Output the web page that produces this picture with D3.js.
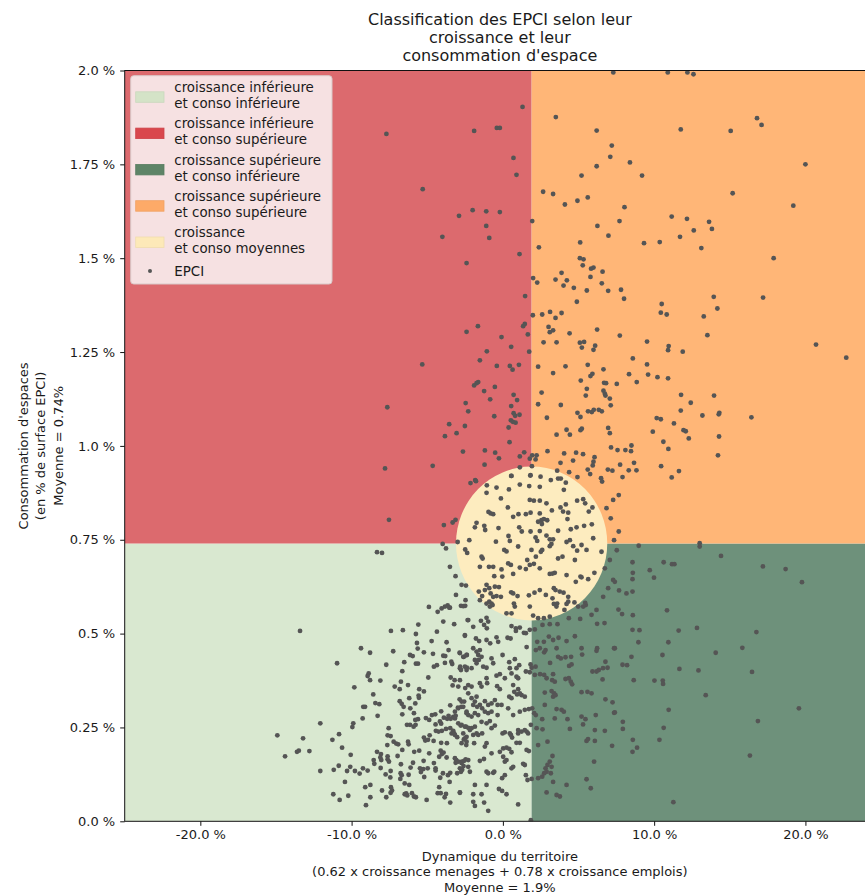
<!DOCTYPE html>
<html><head><meta charset="utf-8">
<script src="https://cdn.jsdelivr.net/npm/d3@7"></script>
<style>body{margin:0;background:#fff;} text{font-family:"DejaVu Sans",sans-serif;fill:#1a1a1a;}</style>
</head><body><svg id="chart" width="865" height="896"></svg>
<script>
const titleLines = ["Classification des EPCI selon leur", "croissance et leur", "consommation d'espace"];
const xLabelLines = ["Dynamique du territoire", "(0.62 x croissance menages + 0.78 x croissance emplois)", "Moyenne = 1.9%"];
const yLabelLines = ["Consommation d'espaces", "(en % de surface EPCI)", "Moyenne = 0.74%"];
const xTicks = [-20, -10, 0, 10, 20];
const yTicks = [0, 0.25, 0.5, 0.75, 1.0, 1.25, 1.5, 1.75, 2.0];
const xDomain = [-25, 24.6];
const yDomain = [0, 2.0];
const meanCroissance = 1.9;
const meanConso = 0.74;
const zoneMoyenneRayon = [5.0, 0.205];
const legendLabels = [["croissance inférieure", "et conso inférieure"], ["croissance inférieure", "et conso supérieure"], ["croissance supérieure", "et conso inférieure"], ["croissance supérieure", "et conso supérieure"], ["croissance", "et conso moyennes"], ["EPCI"]];
const zoneColors = ["#d9e8d0", "#dc6a6e", "#6e917b", "#ffb677", "#fdecbf"];
const legendColors = ["#d4e3c7", "#d9474d", "#5e8467", "#fdaa68", "#fde9b8"];
// [croissance %, conso %]
const epciPoints = [
[-7.7,1.831],[-0.4,1.847],[-0.2,1.847],[-1.9,1.839],[1.3,1.903],[0.7,1.767],[0.9,1.722],[-5.3,1.684],[-2.0,1.628],[-1.1,1.625],[-0.2,1.623],[-2.9,1.613],[-1.1,1.586],[-0.9,1.554],[-4.0,1.557],[-2.4,1.487],[1.1,1.511],
[2.0,1.447],[2.27,1.435],[1.47,1.399],[1.98,1.348],[1.45,1.325],[1.34,1.319],[1.65,1.297],[-1.65,1.319],[-2.4,1.304],[-0.09,1.29],[0.55,1.264],[1.74,1.251],[-1.06,1.252],[-1.52,1.228],[-5.33,1.217],[-0.4,1.213],[0.46,1.213],[0.64,1.203],[1.06,1.216],[2.33,1.211],[-1.63,1.17],[-1.74,1.167],[-1.9,1.161],[-1.24,1.146],[-0.53,1.157],[0.71,1.136],[0.94,1.122],[-0.84,1.124],[-2.46,1.114],[-7.64,1.103],[0.55,1.106],[2.33,1.111],[-2.29,1.092],[0.71,1.087],[0.81,1.08],[1.1,1.083],[-0.57,1.079],[0.53,1.068],[0.66,1.064],[0.84,1.062],[-3.55,1.058],[-2.51,1.053],[0.38,1.049],[-3.06,1.034],[-3.83,1.026],[0.44,1.01],[-2.64,0.985],[-1.19,0.988],[-0.51,0.982],[-0.26,0.967],[1.41,0.983],[1.12,0.972],[1.94,0.975],[2.23,0.975],[2.16,0.964],[1.78,0.966],[-1.21,0.95],[-4.64,0.947],[-7.79,0.94],[1.12,0.943],[1.92,0.946],[0.55,0.92],[1.83,0.922],[-1.83,0.909],
[2.66,1.677],[3.32,1.671],[4.1,1.643],[4.93,1.653],[5.61,1.662],[8.04,1.636],[15.19,1.673],[1.94,1.599],[6.25,1.586],[7.71,1.599],[11.16,1.611],[12.17,1.605],[13.63,1.597],[13.82,1.578],[12.62,1.574],[11.71,1.557],[6.98,1.56],[2.38,1.529],[5.11,1.542],[9.33,1.54],[10.37,1.543],[13.12,1.527],[5.09,1.5],[5.33,1.497],[5.28,1.481],[5.83,1.472],[5.99,1.475],[6.59,1.464],[3.88,1.461],[3.48,1.443],[4.23,1.441],[4.01,1.427],[5.79,1.45],[4.69,1.421],[6.54,1.433],[5.55,1.414],[6.96,1.413],[7.81,1.416],[8.01,1.392],[4.89,1.384],[13.94,1.397],[14.18,1.366],[10.5,1.378],[10.44,1.355],[10.83,1.35],[13.28,1.345],[2.6,1.35],[3.12,1.357],[3.48,1.341],[3.88,1.354],[3.02,1.317],[3.1,1.303],[3.32,1.308],[4.41,1.3],[6.23,1.31],[7.73,1.294],[13.52,1.295],[2.69,1.276],[3.55,1.276],[5.09,1.275],[5.37,1.277],[5.22,1.262],[6.1,1.267],[5.99,1.256],[9.53,1.278],[10.96,1.266],[10.92,1.255],[11.89,1.251],[8.59,1.233],[4.14,1.212],[3.32,1.194],[5.61,1.216],[6.65,1.204],[9.53,1.217],[8.34,1.191],[9.6,1.19],[10.22,1.183],[10.92,1.18],[8.85,1.17],[5.79,1.186],[5.92,1.192],[5.15,1.174],[6.69,1.168],[6.82,1.167],[7.53,1.165],[2.56,1.142],[5.55,1.152],[5.48,1.134],[6.65,1.147],[6.74,1.139],[6.78,1.134],[7.07,1.126],[11.78,1.136],[13.96,1.134],[3.83,1.109],[7.13,1.108],[12.42,1.115],[4.93,1.088],[5.13,1.077],[5.63,1.092],[5.88,1.09],[6.01,1.096],[6.34,1.096],[6.54,1.092],[2.91,1.075],[11.76,1.094],[10.17,1.074],[10.44,1.071],[13.19,1.081],[14.31,1.088],[14.27,1.084],[16.43,1.076],[11.31,1.06],[4.21,1.043],[4.43,1.03],[3.55,1.03],[5.13,1.042],[5.22,1.046],[6.96,1.048],[7.07,1.034],[9.91,1.038],[11.94,1.042],[12.09,1.039],[12.29,1.02],[14.29,1.025],[10.61,1.011],[10.94,0.992],[7.15,0.996],[7.58,0.989],[8.1,0.989],[8.47,0.986],[8.5,1.001],[2.95,0.986],[4.05,0.98],[4.84,0.982],[5.3,0.978],[4.64,0.961],[3.81,0.955],[6.06,0.97],[5.99,0.958],[5.94,0.948],[14.22,0.975],[10.46,0.946],[7.75,0.95],[8.67,0.955],[8.32,0.935],[8.83,0.935],[6.94,0.937],[5.61,0.937],[5.77,0.925],[11.64,0.933],[11.16,0.916],[7.91,0.917],[6.49,0.914],[4.93,0.917],
[8.98,0.734],[13.01,0.741],[13.01,0.732],[7.53,0.722],[14.42,0.707],[8.57,0.69],[10.63,0.69],[11.18,0.685],[11.34,0.685],[17.19,0.679],[18.69,0.672],[9.71,0.669],[8.59,0.662],[9.99,0.649],[8.57,0.645],[7.4,0.638],[19.77,0.637],[7.68,0.615],[8.17,0.607],[8.57,0.612],[7.64,0.564],[7.88,0.552],[8.59,0.549],[10.85,0.562],[8.57,0.51],[9.03,0.509],[11.62,0.508],[12.83,0.515],[16.76,0.504],[8.96,0.477],[10.94,0.477],[7.4,0.461],[15.83,0.462],[14.07,0.449],[8.5,0.438],[10.55,0.443],[7.91,0.417],[8.21,0.416],[11.67,0.406],[12.93,0.402],[16.47,0.398],[8.65,0.376],[10.02,0.375],[10.57,0.375],[10.59,0.366],[13.41,0.336],[19.57,0.301],[10.96,0.297],[7.4,0.29],[7.93,0.265],[16.86,0.267],[7.93,0.246],[10.63,0.249],[8.59,0.217],[10.35,0.217],[8.87,0.196],[8.57,0.185],[16.33,0.175],[11.27,0.051],
[-13.41,0.507],[-9.38,0.461],[-8.78,0.449],[-10.96,0.421],[-7.4,0.507],[-6.61,0.509],[-5.75,0.499],[-5.59,0.524],[-4.89,0.571],[-4.31,0.558],[-4.05,0.567],[-3.65,0.575],[-3.5,0.569],[-2.77,0.574],[-2.49,0.574],[-3.94,0.532],[-3.22,0.525],[-2.33,0.536],[-4.36,0.505],[-2.51,0.496],[-4.71,0.48],[-3.72,0.477],[-5.68,0.475],[-5.63,0.46],[-7.25,0.453],[-5.22,0.45],[-4.62,0.446],[-6.14,0.443],[-5.96,0.44],[-6.52,0.424],[-5.75,0.42],[-5.61,0.42],[-3.94,0.441],[-3.81,0.44],[-3.59,0.456],[-2.86,0.449],[-2.58,0.438],[-2.38,0.443],[-7.71,0.417],[-4.56,0.412],[-4.36,0.416],[-3.83,0.422],[-3.41,0.425],[-3.35,0.419],[-2.82,0.412],[-2.77,0.403],[-2.38,0.409],[-6.65,0.4],[-8.87,0.394],[-8.94,0.387],[-8.78,0.376],[-8.1,0.375],[-4.93,0.383],[-3.45,0.383],[-3.19,0.376],[-3.32,0.362],[-6.74,0.372],[-7.15,0.359],[-6.82,0.352],[-6.27,0.363],[-5.53,0.352],[-5.22,0.346],[-5.57,0.335],[-5.55,0.329],[-2.49,0.355],[-9.82,0.357],[-8.57,0.338],[-8.43,0.315],[-8.17,0.312],[-9.23,0.305],[-9.11,0.305],[-6.82,0.32],[-6.69,0.313],[-6.56,0.305],[-6.19,0.328],[-6.12,0.301],[-5.79,0.314],[-2.86,0.325],[-2.56,0.319],[-3.48,0.309],[-2.97,0.303],[-2.75,0.305],[-2.4,0.288],[-8.28,0.281],[-9.27,0.274],[-6.65,0.285],[-5.88,0.288],[-5.61,0.272],[-5.79,0.27],[-5.09,0.275],[-4.87,0.27],[-4.69,0.283],[-4.47,0.285],[-4.08,0.293],[-3.9,0.276],[-3.68,0.273],[-3.59,0.281],[-3.45,0.273],[-3.28,0.278],[-3.12,0.281],[-4.16,0.266],[-4.08,0.26],[-4.45,0.258],[-6.34,0.257],[-6.14,0.257],[-5.9,0.252],[-5.77,0.257],[-12.07,0.261],[-9.89,0.261],[-9.95,0.251],[-7.55,0.248],[-3.48,0.248],[-3.28,0.241],[-3.39,0.234],[-3.22,0.234],[-2.79,0.255],[-2.44,0.252],[-4.43,0.241],[-4.25,0.239],[-4.03,0.241],[-3.76,0.246],[-14.91,0.229],[-13.21,0.221],[-10.83,0.232],[-11.27,0.217],[-10.63,0.196],[-7.62,0.229],[-7.42,0.227],[-7.22,0.212],[-7.05,0.207],[-6.92,0.205],[-7.64,0.203],[-6.27,0.212],[-6.23,0.205],[-5.86,0.185],[-5.53,0.188],[-5.22,0.223],[-5.13,0.215],[-4.95,0.217],[-4.84,0.229],[-4.58,0.214],[-4.08,0.209],[-3.7,0.208],[-3.02,0.224],[-2.58,0.218],[-2.42,0.203],[-2.4,0.225],[-13.61,0.185],[-13.49,0.188],[-14.4,0.173],[-12.79,0.187],[-10.06,0.177],[-8.32,0.185],[-8.06,0.179],[-8.1,0.17],[-8.04,0.163],[-7.62,0.173],[-6.96,0.174],[-6.65,0.19],[-4.87,0.181],[-4.11,0.188],[-4.03,0.179],[-3.92,0.183],[-4.21,0.172],[-3.72,0.17],[-3.08,0.163],[-3.12,0.156],[-2.71,0.159],[-2.6,0.147],[-2.46,0.165],[-8.54,0.163],[-8.5,0.153],[-7.62,0.165],[-7.53,0.159],[-5.94,0.156],[-5.24,0.161],[-4.56,0.155],[-10.85,0.148],[-12.07,0.134],[-11.18,0.137],[-10.3,0.134],[-10.09,0.145],[-9.78,0.134],[-9.47,0.127],[-9.25,0.141],[-8.94,0.135],[-8.08,0.142],[-7.75,0.125],[-7.42,0.134],[-6.74,0.152],[-6.76,0.128],[-6.1,0.143],[-5.48,0.141],[-5.26,0.139],[-4.97,0.141],[-5.42,0.131],[-4.45,0.141],[-4.45,0.135],[-3.96,0.128],[-3.63,0.123],[-3.48,0.129],[-3.02,0.128],[-2.77,0.132],[-6.69,0.123],[-6.23,0.124],[-7.44,0.117],[-10.44,0.105],[-9.1,0.091],[-8.76,0.097],[-7.4,0.091],[-7.33,0.082],[-7.42,0.076],[-7.99,0.082],[-6.78,0.113],[-6.49,0.101],[-6.19,0.097],[-5.2,0.118],[-4.14,0.116],[-3.52,0.105],[-4.21,0.091],[-11.21,0.072],[-10.22,0.068],[-10.79,0.057],[-8.76,0.064],[-7.71,0.064],[-6.49,0.072],[-6.39,0.074],[-6.32,0.069],[-6.01,0.075],[-5.88,0.066],[-5.75,0.064],[-5.04,0.057],[-4.31,0.075],[-4.11,0.075],[-3.76,0.073],[-3.85,0.064],[-3.48,0.05],[-2.84,0.076],[-9.05,0.043],
[-2.29,0.536],[-1.96,0.518],[-1.45,0.534],[-1.08,0.542],[-0.97,0.532],[-1.24,0.523],[-1.06,0.514],[0.57,0.52],[0.86,0.514],[1.12,0.516],[0.86,0.507],[1.39,0.502],[1.52,0.501],[1.78,0.51],[2.11,0.511],[2.62,0.523],[3.1,0.525],[3.61,0.525],[4.36,0.541],[5.11,0.539],[6.23,0.526],[6.72,0.528],[-2.51,0.494],[-1.78,0.487],[-1.57,0.48],[-1.08,0.483],[-0.84,0.474],[-0.42,0.49],[-0.31,0.478],[0.31,0.489],[0.51,0.487],[1.57,0.464],[2.27,0.478],[2.71,0.478],[3.04,0.492],[3.32,0.483],[3.68,0.489],[4.21,0.48],[4.76,0.493],[5.2,0.461],[5.24,0.444],[6.23,0.461],[6.19,0.454],[7.35,0.461],[-2.84,0.448],[-2.62,0.438],[-2.4,0.443],[-1.96,0.461],[-1.74,0.452],[-1.52,0.456],[-1.63,0.443],[-1.41,0.438],[-1.85,0.43],[-1.59,0.43],[-1.74,0.421],[-0.75,0.434],[-0.64,0.421],[-0.02,0.443],[0.79,0.432],[0.42,0.424],[2.18,0.456],[2.44,0.461],[2.73,0.45],[2.82,0.456],[3.55,0.461],[3.65,0.438],[3.83,0.434],[3.12,0.422],[4.14,0.437],[4.51,0.438],[4.38,0.414],[4.54,0.418],[1.83,0.418],[1.9,0.409],[2.16,0.412],[6.78,0.425],[-2.84,0.408],[-2.51,0.412],[-2.4,0.403],[-2.07,0.408],[-1.3,0.412],[-1.08,0.409],[-0.42,0.388],[-0.2,0.392],[0.13,0.381],[0.46,0.408],[0.57,0.394],[0.9,0.408],[1.08,0.416],[0.9,0.385],[1.01,0.381],[1.52,0.399],[1.78,0.397],[2.11,0.39],[2.46,0.392],[2.73,0.39],[2.89,0.381],[3.32,0.392],[3.26,0.376],[3.43,0.372],[4.14,0.379],[4.36,0.381],[4.49,0.372],[4.58,0.365],[5.92,0.399],[6.19,0.399],[6.34,0.403],[6.62,0.408],[6.92,0.409],[6.59,0.378],[-2.84,0.376],[-2.95,0.359],[-2.29,0.363],[-2.07,0.359],[-1.52,0.368],[-1.41,0.359],[-1.08,0.381],[-1.04,0.368],[-0.38,0.36],[-0.2,0.352],[0.68,0.363],[1.01,0.352],[1.24,0.336],[1.45,0.332],[0.75,0.345],[0.94,0.338],[1.12,0.341],[0.42,0.332],[0.57,0.328],[2.77,0.343],[3.22,0.347],[3.39,0.341],[3.32,0.332],[3.48,0.336],[5.2,0.344],[5.59,0.345],[5.86,0.341],[6.78,0.325],[7.25,0.317],[-2.29,0.341],[-2.07,0.328],[-1.74,0.332],[-1.85,0.319],[-1.96,0.31],[-1.7,0.305],[-1.52,0.31],[-2.73,0.319],[-2.62,0.305],[-2.95,0.301],[-3.17,0.292],[-1.19,0.32],[-0.97,0.31],[-0.75,0.314],[-0.53,0.323],[-0.35,0.31],[-0.09,0.31],[0.35,0.301],[-1.37,0.301],[-1.19,0.292],[-0.97,0.288],[-2.4,0.292],[-2.29,0.283],[-2.07,0.279],[-1.85,0.288],[-1.63,0.283],[-0.75,0.292],[-0.35,0.283],[0.68,0.283],[1.12,0.292],[1.45,0.297],[1.72,0.299],[1.94,0.301],[2.07,0.288],[2.18,0.283],[2.77,0.31],[3.55,0.299],[3.88,0.297],[4.03,0.292],[2.6,0.272],[3.43,0.274],[4.27,0.272],[5.2,0.279],[5.46,0.272],[6.14,0.283],[7.35,0.289],[-3.17,0.274],[-2.95,0.261],[-2.73,0.257],[-2.51,0.252],[-2.29,0.249],[-2.18,0.243],[-2.07,0.248],[-1.85,0.252],[-1.41,0.265],[-1.08,0.261],[-0.86,0.267],[-0.53,0.255],[-0.75,0.248],[-0.02,0.234],[0.13,0.237],[0.46,0.234],[1.01,0.243],[1.01,0.234],[1.24,0.239],[1.45,0.243],[1.57,0.239],[1.67,0.234],[1.85,0.257],[2.23,0.248],[2.62,0.245],[4.43,0.246],[5.3,0.258],[6.08,0.243],[6.74,0.241],[-3.17,0.23],[-2.62,0.234],[-2.51,0.221],[-2.4,0.212],[-2.73,0.208],[-1.96,0.23],[-1.74,0.234],[-1.63,0.23],[-1.37,0.234],[-1.9,0.208],[-1.08,0.208],[-1.19,0.199],[0.53,0.23],[0.61,0.223],[-0.2,0.185],[0.02,0.194],[0.24,0.196],[0.42,0.193],[0.57,0.184],[0.9,0.209],[1.12,0.209],[-0.75,0.181],[1.57,0.19],[1.72,0.187],[2.33,0.203],[2.95,0.212],[5.53,0.214],[5.63,0.219],[6.08,0.214],[7.22,0.201],[-3.17,0.168],[-2.95,0.159],[-2.73,0.155],[-2.56,0.161],[-2.29,0.163],[-2.84,0.141],[-2.69,0.137],[-2.29,0.145],[-2.18,0.132],[-1.52,0.161],[-1.25,0.166],[0.02,0.172],[0.13,0.159],[0.24,0.163],[0.57,0.141],[0.68,0.145],[1.34,0.153],[1.45,0.15],[-1.08,0.132],[-0.97,0.128],[-0.64,0.129],[-0.57,0.132],[0.13,0.123],[-0.05,0.115],[3.28,0.174],[3.1,0.159],[2.95,0.15],[3.22,0.145],[2.82,0.141],[2.89,0.132],[3.17,0.128],[6.03,0.159],[1.52,0.123],[1.63,0.11],[1.9,0.113],[2.33,0.115],[2.6,0.119],[2.73,0.128],[-1.85,0.097],[-1.08,0.097],[-2.84,0.077],[-1.96,0.072],[-1.41,0.072],[-0.26,0.086],[-0.05,0.081],[0.24,0.072],[3.32,0.105],[4.21,0.097],[5.53,0.112],[5.81,0.088],[2.89,0.077],[3.55,0.07],[3.77,0.066],[-1.96,0.052],[-1.85,0.041],[-0.97,0.028],[-1.24,0.05],[1.01,0.045],[1.85,0.003],
[-1.78,0.906],[-2.14,0.901],[-3.13,0.803],[-3.32,0.796],[-3.9,0.789],[-3.98,0.739],[-3.76,0.727],
[0.57,0.92],[1.81,0.921],[2.49,0.918],[3.17,0.909],[3.59,0.934],[3.65,0.913],[3.83,0.913],[4.16,0.902],[4.38,0.93],[1.12,0.897],[1.74,0.893],[2.44,0.891],[-1.06,0.895],[-0.42,0.889],[-1.08,0.875],[0.4,0.884],[4.03,0.883],[-0.13,0.86],[0.33,0.836],[0.68,0.811],[1.03,0.818],[1.52,0.818],[1.78,0.856],[2.05,0.854],[2.44,0.854],[1.83,0.822],[2.44,0.82],[2.88,0.847],[3.24,0.828],[3.81,0.836],[4.16,0.844],[3.98,0.825],[4.32,0.822],[4.91,0.854],[5.31,0.858],[5.44,0.847],[5.68,0.825],[5.92,0.836],[-0.95,0.824],[-0.81,0.82],[-0.64,0.818],[1.08,0.783],[2.55,0.802],[2.71,0.805],[2.33,0.798],[2.58,0.792],[2.93,0.802],[-1.74,0.795],[-1.85,0.783],[-1.23,0.787],[-1.17,0.776],[-0.29,0.781],[0.37,0.76],[0.46,0.747],[1.25,0.772],[1.83,0.772],[2.44,0.773],[2.16,0.756],[2.27,0.747],[2.88,0.761],[3.1,0.751],[3.65,0.774],[4.27,0.805],[4.49,0.778],[4.87,0.783],[5.37,0.787],[5.88,0.791],[5.97,0.754],[4.43,0.749],[4.21,0.744],[3.32,0.751],[-2.22,0.749],[-2.99,0.744],[-2.49,0.724],[-2.36,0.715],[-1.41,0.705],[-1.34,0.7],[-0.46,0.745],[0.09,0.723],[0.24,0.719],[1.01,0.732],[1.61,0.696],[1.89,0.723],[2.18,0.705],[2.51,0.718],[2.6,0.723],[3.1,0.733],[3.21,0.739],[3.65,0.7],[3.94,0.705],[4.65,0.733],[4.91,0.721],[5.2,0.736],[5.53,0.723],[6.52,0.718],[-1.52,0.678],[-0.92,0.678],[-0.64,0.678],[-0.57,0.653],[-0.09,0.671],[-0.04,0.652],[0.35,0.687],[0.53,0.683],[0.68,0.659],[1.12,0.676],[1.52,0.672],[1.78,0.683],[2.05,0.686],[2.44,0.674],[3.1,0.659],[3.28,0.66],[3.43,0.662],[4.21,0.656],[5.13,0.652],[5.64,0.645],[6.05,0.662],[4.76,0.696],[-1.19,0.616],[-1.08,0.63],[-0.9,0.621],[-0.81,0.607],[-0.53,0.625],[-0.26,0.624],[-0.64,0.598],[-0.42,0.6],[-0.13,0.598],[0.55,0.61],[0.68,0.607],[0.97,0.6],[0.73,0.58],[1.72,0.602],[2.09,0.609],[2.44,0.616],[2.84,0.603],[3.37,0.621],[3.48,0.616],[3.76,0.612],[4.01,0.609],[4.32,0.598],[3.28,0.594],[4.21,0.579],[3.59,0.58],[4.82,0.638],[5.2,0.65],[5.48,0.576],[4.98,0.572],[-1.59,0.612],[-1.37,0.6],[-0.86,0.572],[-0.75,0.58],[-1.52,0.589],[-1.08,0.58],[-0.9,0.585],[-0.68,0.576],[0.24,0.554],[0.57,0.554],[0.79,0.572],[1.78,0.572],[2.0,0.548],[2.33,0.541],[2.71,0.541],[3.1,0.545],[3.37,0.579],[3.54,0.572],[4.07,0.563],[4.32,0.585],[4.73,0.583],[5.44,0.582],[5.31,0.572],
[-3.5,0.678],[-3.13,0.653],[-2.73,0.63],[-2.44,0.628],[-3.1,0.603],[-3.83,0.572],[-3.54,0.569],[-2.47,0.589],[-2.62,0.573],
[7.24,0.934],[6.56,0.905],[7.66,0.869],[7.29,0.856],[6.85,0.834],[7.13,0.807],[7.66,0.772],[7.35,0.749],
[7.07,0.696],[6.74,0.674],[7.29,0.643],[6.96,0.621],[6.63,0.598],[6.19,0.563],[5.86,0.55],
[-8.32,0.717],[-7.99,0.715],[-7.53,0.803],
[7.3,1.995],[10.9,1.995],[12.2,1.995],[12.6,1.99],[3.5,1.876],[6.2,1.84],[7.2,1.80],[7.1,1.77],[6.2,1.745],[5.2,1.72],[8.4,1.755],[9.2,1.72],[16.8,1.873],[17.1,1.855],[15.06,1.839],[11.76,1.843],[19.2,1.64],[20.0,1.75],
[17.9,1.50],[17.2,1.395],[20.7,1.27],[22.7,1.235]
];

const W = 865, H = 896;
const plotLeft = 124.7, plotRight = 875, plotTop = 70.5, plotBottom = 821.3;
const svg = d3.select("#chart");
const x = d3.scaleLinear().domain(xDomain).range([plotLeft, plotRight]);
const y = d3.scaleLinear().domain(yDomain).range([plotBottom, plotTop]);

svg.append("defs").append("clipPath").attr("id", "plotClip")
  .append("rect").attr("x", plotLeft).attr("y", plotTop).attr("width", plotRight - plotLeft).attr("height", plotBottom - plotTop);

const plot = svg.append("g").attr("clip-path", "url(#plotClip)");
const quads = [
  {x0: xDomain[0], x1: meanCroissance, y0: yDomain[0], y1: meanConso, c: zoneColors[0]},
  {x0: xDomain[0], x1: meanCroissance, y0: meanConso, y1: yDomain[1], c: zoneColors[1]},
  {x0: meanCroissance, x1: xDomain[1], y0: yDomain[0], y1: meanConso, c: zoneColors[2]},
  {x0: meanCroissance, x1: xDomain[1], y0: meanConso, y1: yDomain[1], c: zoneColors[3]}
];
plot.selectAll("rect.quad").data(quads).join("rect").attr("class", "quad")
  .attr("x", d => x(d.x0)).attr("y", d => y(d.y1))
  .attr("width", d => x(d.x1) - x(d.x0)).attr("height", d => y(d.y0) - y(d.y1))
  .attr("fill", d => d.c);
plot.append("ellipse")
  .attr("cx", x(meanCroissance)).attr("cy", y(meanConso))
  .attr("rx", x(meanCroissance + zoneMoyenneRayon[0]) - x(meanCroissance))
  .attr("ry", y(meanConso) - y(meanConso + zoneMoyenneRayon[1]))
  .attr("fill", zoneColors[4]);
plot.selectAll("circle.pt").data(epciPoints).join("circle").attr("class", "pt")
  .attr("cx", d => x(d[0])).attr("cy", d => y(d[1])).attr("r", 2.4).attr("fill", "#555555");

svg.append("rect").attr("x", plotLeft).attr("y", plotTop).attr("width", plotRight - plotLeft).attr("height", plotBottom - plotTop)
  .attr("fill", "none").attr("stroke", "#111").attr("stroke-width", 1);

const fmtX = d => d.toFixed(1) + " %";
const fmtY = d => (Math.abs(d * 10 - Math.round(d * 10)) < 1e-9 ? d.toFixed(1) : d.toFixed(2)) + " %";
const xAxis = svg.append("g").attr("transform", `translate(0,${plotBottom})`)
  .call(d3.axisBottom(x).tickValues(xTicks).tickFormat(fmtX).tickSize(4.5).tickPadding(4));
const yAxis = svg.append("g").attr("transform", `translate(${plotLeft},0)`)
  .call(d3.axisLeft(y).tickValues(yTicks).tickFormat(fmtY).tickSize(4.5).tickPadding(5));
[xAxis, yAxis].forEach(a => {
  a.select(".domain").remove();
  a.selectAll("line").attr("stroke", "#111");
  a.selectAll("text").attr("font-size", "13px").attr("font-family", "DejaVu Sans").attr("fill", "#1a1a1a");
});

const cx = (plotLeft + plotRight) / 2;
svg.append("g").selectAll("text").data(titleLines).join("text")
  .attr("x", cx).attr("y", (d, i) => 24.5 + i * 18).attr("text-anchor", "middle").attr("font-size", "16px").text(d => d);
svg.append("g").selectAll("text").data(xLabelLines).join("text")
  .attr("x", cx).attr("y", (d, i) => 860.7 + i * 15.5).attr("text-anchor", "middle").attr("font-size", "13px").text(d => d);
const cy = (plotTop + plotBottom) / 2;
svg.append("g").selectAll("text").data(yLabelLines).join("text")
  .attr("transform", (d, i) => `translate(${27.7 + i * 17.5},${cy}) rotate(-90)`)
  .attr("text-anchor", "middle").attr("font-size", "13px").text(d => d);

const lg = svg.append("g");
lg.append("rect").attr("x", 130.7).attr("y", 75.7).attr("width", 201.3).attr("height", 208.3).attr("rx", 3)
  .attr("fill", "#f6e1e2").attr("stroke", "#d8c8c8").attr("stroke-width", 1);
const entryTop = [87.3, 123.6, 159.9, 196.2, 232.5, 271];
legendLabels.forEach((lines, i) => {
  const g = lg.append("g");
  if (i < 5) {
    g.append("rect").attr("x", 135.7).attr("y", entryTop[i] + 4.5).attr("width", 28.3).attr("height", 10.5)
      .attr("fill", legendColors[i]).attr("stroke", d3.color(legendColors[i]).darker(0.15)).attr("stroke-width", 0.8);
  } else {
    g.append("circle").attr("cx", 150).attr("cy", entryTop[i]).attr("r", 2).attr("fill", "#555555");
  }
  g.selectAll("text").data(lines).join("text").attr("x", 174.3)
    .attr("y", (d, j) => entryTop[i] + 4.7 + j * 16).attr("font-size", "13.4px").text(d => d);
});
</script></body></html>
